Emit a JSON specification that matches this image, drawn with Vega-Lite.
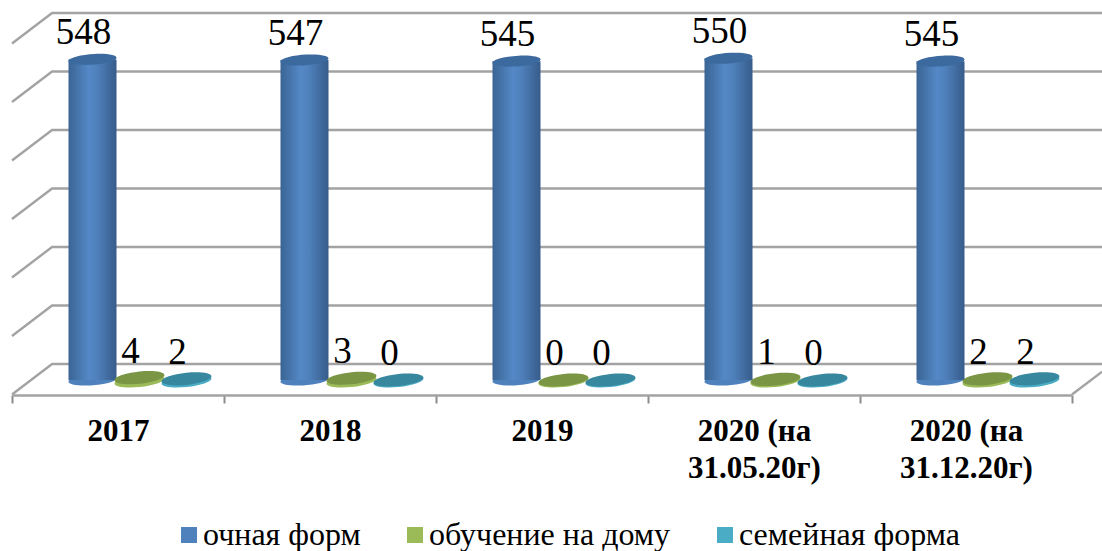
{
"$schema":"https://vega.github.io/schema/vega-lite/v6.json",
"width":1102,"height":395,
"autosize":{"type":"none"},
"padding":{"left":0,"top":0,"right":0,"bottom":156},
"background":"white",
"config":{"view":{"stroke":null},"font":"Liberation Serif"},
"datasets":{
"vals":[
{"year":"2017","series":"очная форм","value":548},{"year":"2017","series":"обучение на дому","value":4},{"year":"2017","series":"семейная форма","value":2},
{"year":"2018","series":"очная форм","value":547},{"year":"2018","series":"обучение на дому","value":3},{"year":"2018","series":"семейная форма","value":0},
{"year":"2019","series":"очная форм","value":545},{"year":"2019","series":"обучение на дому","value":0},{"year":"2019","series":"семейная форма","value":0},
{"year":"2020 (на 31.05.20г)","series":"очная форм","value":550},{"year":"2020 (на 31.05.20г)","series":"обучение на дому","value":1},{"year":"2020 (на 31.05.20г)","series":"семейная форма","value":0},
{"year":"2020 (на 31.12.20г)","series":"очная форм","value":545},{"year":"2020 (на 31.12.20г)","series":"обучение на дому","value":2},{"year":"2020 (на 31.12.20г)","series":"семейная форма","value":2}
],
"wall":[
{"g":"600","o":1,"u":0,"v":548},{"g":"600","o":2,"u":0.189,"v":600},{"g":"600","o":3,"u":5.142,"v":600},
{"g":"500","o":1,"u":0,"v":448},{"g":"500","o":2,"u":0.189,"v":500},{"g":"500","o":3,"u":5.142,"v":500},
{"g":"400","o":1,"u":0,"v":348},{"g":"400","o":2,"u":0.189,"v":400},{"g":"400","o":3,"u":5.142,"v":400},
{"g":"300","o":1,"u":0,"v":248},{"g":"300","o":2,"u":0.189,"v":300},{"g":"300","o":3,"u":5.142,"v":300},
{"g":"200","o":1,"u":0,"v":148},{"g":"200","o":2,"u":0.189,"v":200},{"g":"200","o":3,"u":5.142,"v":200},
{"g":"100","o":1,"u":0,"v":48},{"g":"100","o":2,"u":0.189,"v":100},{"g":"100","o":3,"u":5.142,"v":100},
{"g":"0","o":1,"u":0,"v":-52},{"g":"0","o":2,"u":0.189,"v":0},{"g":"0","o":3,"u":5.142,"v":0},
{"g":"r","o":1,"u":5,"v":-52},{"g":"r","o":2,"u":5.142,"v":-13}
]},
"resolve":{"scale":{"x":"independent","y":"shared","color":"shared","xOffset":"shared"}},
"layer":[
{"data":{"name":"wall"},
 "mark":{"type":"line","color":"#a3a3a3","strokeWidth":2.4,"interpolate":"linear"},
 "encoding":{
  "x":{"field":"u","type":"quantitative","axis":null,"scale":{"domain":[0,5],"range":[12,1072],"zero":false,"nice":false}},
  "y":{"field":"v","type":"quantitative","axis":null,"scale":{"domain":[0,600],"range":[364,13],"zero":false,"nice":false}},
  "detail":{"field":"g"},"order":{"field":"o"}}},
{"data":{"name":"vals"},
 "encoding":{
  "x":{"field":"year","type":"nominal","sort":null,
   "scale":{"range":[12,1072],"paddingInner":0,"paddingOuter":0},
   "axis":{"title":null,"labelAngle":0,"labelFont":"Liberation Serif","labelFontSize":31,"labelFontWeight":"bold","labelColor":"black","labelPadding":13,"labelLineHeight":37,"labelBaseline":"top","labelLimit":400,
    "labelExpr":"length(datum.label)>4 ? [slice(datum.label,0,8), slice(datum.label,9)] : datum.label",
    "tickBand":"extent","tickSize":8,"tickColor":"#8c8c8c","tickWidth":2,"domainColor":"#a3a3a3","domainWidth":2.4,"grid":false}},
  "xOffset":{"field":"series","type":"nominal","sort":null,
   "scale":{"domain":["очная форм","обучение на дому","семейная форма"],"range":[57,198],"paddingInner":0,"paddingOuter":0}},
  "y":{"field":"value","type":"quantitative","axis":null}
 },
 "layer":[
  {"transform":[{"filter":"datum.series==='очная форм'"}],
   "mark":{"type":"point","filled":true,"opacity":1,"strokeWidth":0,"yOffset":16,"size":2304,"shape":"M-1,0.05 A1,0.22 -4 1 1 1,-0.05 A1,0.22 -4 1 1 -1,0.05 Z"},
   "encoding":{"y":{"datum":0},
    "color":{"field":"series","type":"nominal","scale":{"domain":["очная форм","обучение на дому","семейная форма"],"range":["#4f81bd","#9bbb59","#4bacc6"]},
     "legend":{"title":null,"orient":"none","legendX":173,"legendY":517,"direction":"horizontal","columns":3,"symbolType":"square","symbolSize":256,"symbolStrokeWidth":0,"symbolOpacity":1,"labelFont":"Liberation Serif","labelFontSize":32,"labelColor":"black","labelOffset":-2,"columnPadding":38,"clipHeight":36,"labelLimit":400}}}},
  {"transform":[{"filter":"datum.series==='очная форм'"}],
   "mark":{"type":"bar","width":48,"yOffset":16,"y2Offset":16,
    "fill":{"gradient":"linear","x1":0,"x2":1,"y1":0,"y2":0,"stops":[{"offset":0,"color":"#3a6494"},{"offset":0.42,"color":"#5488c6"},{"offset":0.6,"color":"#4f80bb"},{"offset":1,"color":"#365c8a"}]}},
   "encoding":{"y2":{"datum":0}}},
  {"transform":[{"filter":"datum.series==='очная форм'"}],
   "mark":{"type":"point","filled":true,"opacity":1,"strokeWidth":0,"yOffset":16,"size":2304,"color":"#3d6a9e","shape":"M-1,0.05 A1,0.22 -4 1 1 1,-0.05 A1,0.22 -4 1 1 -1,0.05 Z"}},
  {"transform":[{"filter":"datum.series==='обучение на дому'"}],
   "mark":{"type":"point","filled":true,"opacity":1,"strokeWidth":0,"yOffset":17,"size":2500,"shape":"M-1,0.1 A1,0.24 -6 1 1 1,-0.1 A1,0.24 -6 1 1 -1,0.1 Z"},
   "encoding":{"y":{"datum":0},"color":{"field":"series","type":"nominal"}}},
  {"transform":[{"filter":"datum.series==='обучение на дому'"}],
   "mark":{"type":"point","filled":true,"opacity":1,"strokeWidth":0,"yOffset":16,"size":2500,"color":"#7a9645","shape":"M-1,0.1 A1,0.24 -6 1 1 1,-0.1 A1,0.24 -6 1 1 -1,0.1 Z"}},
  {"transform":[{"filter":"datum.series==='семейная форма'"}],
   "mark":{"type":"point","filled":true,"opacity":1,"strokeWidth":0,"yOffset":17,"size":2500,"shape":"M-1,0.1 A1,0.24 -6 1 1 1,-0.1 A1,0.24 -6 1 1 -1,0.1 Z"},
   "encoding":{"y":{"datum":0},"color":{"field":"series","type":"nominal"}}},
  {"transform":[{"filter":"datum.series==='семейная форма'"}],
   "mark":{"type":"point","filled":true,"opacity":1,"strokeWidth":0,"yOffset":16,"size":2500,"color":"#37889f","shape":"M-1,0.1 A1,0.24 -6 1 1 1,-0.1 A1,0.24 -6 1 1 -1,0.1 Z"}},
  {"mark":{"type":"text","font":"Liberation Serif","fontSize":37,"color":"black","baseline":"alphabetic","align":"center","dx":-9,"dy":1},
   "encoding":{"text":{"field":"value","type":"quantitative"}}}
 ]}
]
}
